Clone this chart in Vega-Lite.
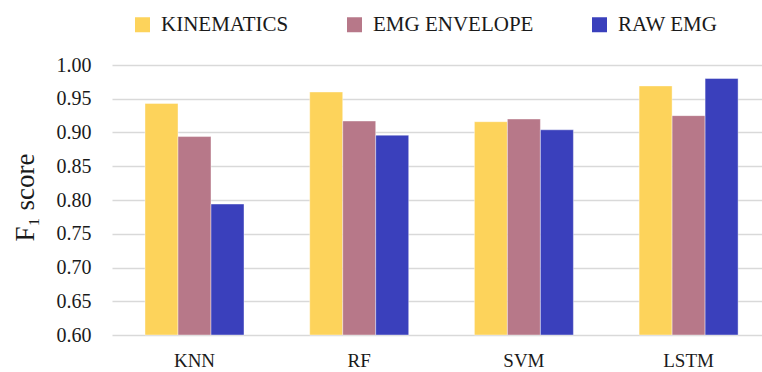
{
  "$schema": "https://vega.github.io/schema/vega-lite/v6.json",
  "autosize": "none",
  "padding": {"left": 112, "top": 65, "right": 0, "bottom": 37},
  "width": 650,
  "height": 270,
  "background": "white",
  "config": {
    "view": {"stroke": null},
    "font": "Liberation Serif"
  },
  "data": {
    "values": [
      {"model": "KNN", "feature": "KINEMATICS", "score": 0.943},
      {"model": "KNN", "feature": "EMG ENVELOPE", "score": 0.894},
      {"model": "KNN", "feature": "RAW EMG", "score": 0.794},
      {"model": "RF", "feature": "KINEMATICS", "score": 0.960},
      {"model": "RF", "feature": "EMG ENVELOPE", "score": 0.917},
      {"model": "RF", "feature": "RAW EMG", "score": 0.896},
      {"model": "SVM", "feature": "KINEMATICS", "score": 0.916},
      {"model": "SVM", "feature": "EMG ENVELOPE", "score": 0.920},
      {"model": "SVM", "feature": "RAW EMG", "score": 0.904},
      {"model": "LSTM", "feature": "KINEMATICS", "score": 0.969},
      {"model": "LSTM", "feature": "EMG ENVELOPE", "score": 0.925},
      {"model": "LSTM", "feature": "RAW EMG", "score": 0.980}
    ]
  },
  "mark": {"type": "bar", "stroke": "#ffffff", "strokeWidth": 0.8, "strokeOpacity": 0.5},
  "encoding": {
    "x": {
      "field": "model",
      "type": "nominal",
      "sort": ["KNN", "RF", "SVM", "LSTM"],
      "scale": {"paddingInner": 0.399, "paddingOuter": 0.1728, "align": 0.58},
      "axis": {
        "title": null,
        "labelAngle": 0,
        "domain": false,
        "ticks": false,
        "labelPadding": 16,
        "labelFontSize": 19,
        "labelColor": "#1a1a1a",
        "labelFont": "Liberation Serif"
      }
    },
    "xOffset": {
      "field": "feature",
      "type": "nominal",
      "sort": ["KINEMATICS", "EMG ENVELOPE", "RAW EMG"],
      "scale": {"paddingInner": 0, "paddingOuter": 0}
    },
    "y": {
      "field": "score",
      "type": "quantitative",
      "scale": {"domain": [0.6, 1.0], "zero": false, "nice": false},
      "axis": {
        "values": [0.6, 0.65, 0.7, 0.75, 0.8, 0.85, 0.9, 0.95, 1.0],
        "format": ".2f",
        "domain": false,
        "ticks": false,
        "grid": true,
        "gridColor": "#d9d9d9",
        "gridWidth": 1.5,
        "labelPadding": 21,
        "labelFontSize": 20,
        "labelColor": "#1a1a1a",
        "labelFont": "Liberation Serif",
        "title": "F₁  score",
        "titleFont": "Liberation Serif",
        "titleFontSize": 27,
        "titleFontWeight": "normal",
        "titleColor": "#1a1a1a",
        "titleAngle": -90,
        "titleAlign": "center",
        "titleBaseline": "alphabetic",
        "titleX": -79,
        "titleY": 132
      }
    },
    "y2": {"datum": 0.6},
    "color": {
      "field": "feature",
      "type": "nominal",
      "sort": ["KINEMATICS", "EMG ENVELOPE", "RAW EMG"],
      "scale": {
        "domain": ["KINEMATICS", "EMG ENVELOPE", "RAW EMG"],
        "range": ["#FDD35B", "#B77889", "#3A40BC"]
      },
      "legend": {
        "title": null,
        "orient": "none",
        "direction": "horizontal",
        "legendX": 20,
        "legendY": -51,
        "padding": 0,
        "symbolType": "square",
        "symbolSize": 225,
        "symbolStrokeWidth": 0,
        "symbolOpacity": 1,
        "labelFont": "Liberation Serif",
        "labelFontSize": 21,
        "labelColor": "#1a1a1a",
        "labelOffset": 8,
        "columnPadding": 55,
        "labelLimit": 400
      }
    }
  }
}
